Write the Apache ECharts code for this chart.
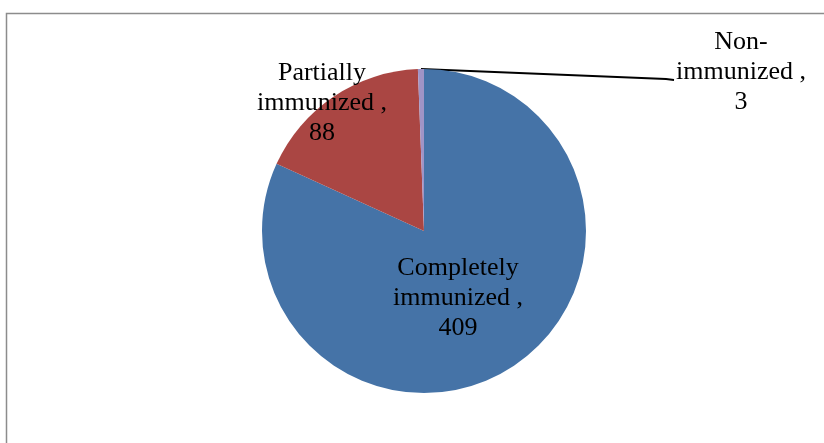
<!DOCTYPE html>
<html>
<head>
<meta charset="utf-8">
<script src="https://cdn.jsdelivr.net/npm/echarts@6/dist/echarts.min.js"></script>
<style>
html,body{margin:0;padding:0;background:#fff;}
#chart{width:824px;height:443px;}
</style>
</head>
<body>
<div id="chart"></div>
<script>
const categories = ['Completely\nimmunized', 'Partially\nimmunized', 'Non-\nimmunized'];
const values = [409, 88, 3];
const colors = ['#4573A7', '#AA4643', '#A094C6'];
// label centre positions (pixels) for each slice's data label
const labelPos = [[458, 298], [322, 103], [741, 72]];

const chart = echarts.init(document.getElementById('chart'));
chart.setOption({
  animation: false,
  backgroundColor: '#fff',
  graphic: [{
    type: 'rect',
    shape: { x: 6.5, y: 13.5, width: 900, height: 600 },
    style: { fill: 'none', stroke: '#8c8c8c', lineWidth: 1.5 },
    silent: true
  }],
  series: [{
    type: 'pie',
    center: [424, 231],
    radius: 162,
    startAngle: 90,
    clockwise: true,
    avoidLabelOverlap: false,
    data: categories.map((c, i) => ({
      name: c,
      value: values[i],
      itemStyle: { color: colors[i] },
      labelLine: { show: i === 2, lineStyle: { color: '#000', width: 2 }, smooth: false }
    })),
    label: {
      show: true,
      position: 'outside',
      formatter: p => p.name + ' ,\n' + p.value,
      fontFamily: 'Liberation Serif',
      fontSize: 26,
      lineHeight: 30,
      color: '#000',
      align: 'center'
    },
    labelLine: { length: 10, length2: 10 },
    labelLayout: params => {
      const i = params.dataIndex;
      const out = {
        x: labelPos[i][0],
        y: labelPos[i][1],
        align: 'center',
        verticalAlign: 'middle'
      };
      if (i === 2 && params.labelLinePoints) {
        const start = params.labelLinePoints[0];
        const endX = labelPos[i][0] - params.labelRect.width / 2 - 2;
        const endY = labelPos[i][1] + 8;
        out.labelLinePoints = [start, [endX - 8, endY - 1], [endX, endY]];
      }
      return out;
    }
  }]
});
</script>
</body>
</html>
